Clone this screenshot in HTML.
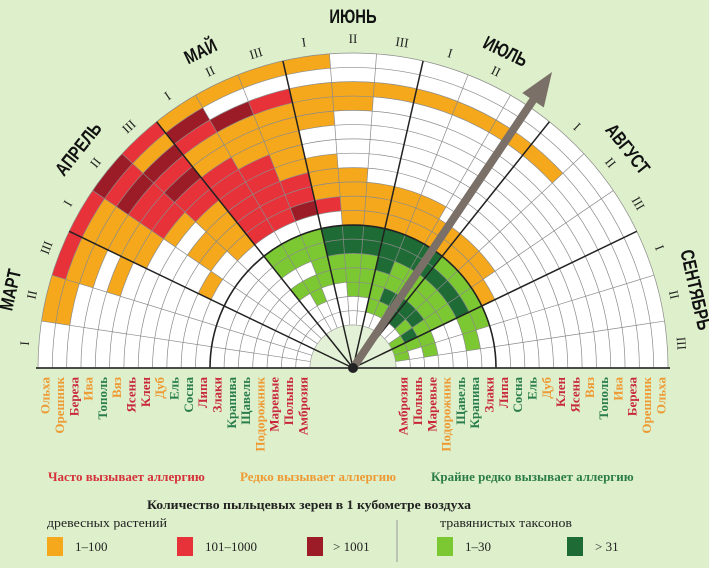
<!DOCTYPE html>
<html><head><meta charset="utf-8">
<style>
html,body{margin:0;padding:0;background:#ddf0cb;}
body{width:709px;height:568px;overflow:hidden;position:relative;font-family:"Liberation Serif",serif;}
svg{position:absolute;left:0;top:0;}
</style></head>
<body>
<svg id="chart" width="709" height="568" viewBox="0 0 709 568" xmlns="http://www.w3.org/2000/svg">
  <rect x="0" y="0" width="709" height="568" fill="#ddf0cb"/>
  <g id="cells"></g>
  <g id="grid"></g>
  <g id="labels"></g>
  <g id="arrow"></g>

  <g font-weight="bold" font-size="13">
    <text x="48" y="481" fill="#d5323a">Часто вызывает аллергию</text>
    <text x="240" y="481" fill="#ee9a34">Редко вызывает аллергию</text>
    <text x="431" y="481" fill="#2c7d47">Крайне редко вызывает аллергию</text>
  </g>
  <g font-size="13" fill="#222">
    <text x="147" y="509" font-weight="bold" textLength="324" lengthAdjust="spacingAndGlyphs">Количество пыльцевых зерен в 1 кубометре воздуха</text>
    <text x="47" y="527" textLength="120" lengthAdjust="spacingAndGlyphs">древесных растений</text>
    <text x="440" y="527" textLength="132" lengthAdjust="spacingAndGlyphs">травянистых таксонов</text>
    <line x1="397" y1="520" x2="397" y2="562" stroke="#999" stroke-width="1"/>
    <rect x="47" y="537" width="16" height="19" fill="#f5a81c"/>
    <text x="75" y="551">1–100</text>
    <rect x="177" y="537" width="16" height="19" fill="#e8323a"/>
    <text x="205" y="551">101–1000</text>
    <rect x="307" y="537" width="16" height="19" fill="#9b1c26"/>
    <text x="333" y="551">&gt; 1001</text>
    <rect x="437" y="537" width="16" height="19" fill="#7cc832"/>
    <text x="465" y="551">1–30</text>
    <rect x="567" y="537" width="16" height="19" fill="#1f6b35"/>
    <text x="595" y="551">&gt; 31</text>
  </g>
</svg>
<script>
const plants = ["Ольха","Орешник","Береза","Ива","Тополь","Вяз","Ясень","Клен","Дуб","Ель","Сосна","Липа","Злаки","Крапива","Щавель","Подорожник","Маревые","Полынь","Амброзия"];
const plantColors = ["o","o","r","o","g","o","r","r","o","g","g","r","r","g","g","o","r","r","r"];
const months = ["МАРТ","АПРЕЛЬ","МАЙ","ИЮНЬ","ИЮЛЬ","АВГУСТ","СЕНТЯБРЬ"];
const decadeNames = ["I","II","III"];
// one string per plant (outer->inner), one char per decade (March I .. September III)
// . none, o 1-100, r 101-1000, d >1001, g 1-30, G >31
const levels = [
".orrdroooo...........",
".ooorod..............",
"..ooddrdrooooooo.....",
"...orrooooo..........",
"..oordoooo...........",
"...orrroo............",
"....orrro............",
".....orroo...........",
"....oorrroo..........",
"....oorrrooooo.......",
"...o.orrdrooooooo....",
"..........oooooooo...",
"......gggGGGGGGgggg..",
"......gggGGGGGGGGGgg.",
"........ggggGggggg...",
"......gggggggggggg...",
".......g..gggGGGGggg.",
"............ggGGgGg..",
".................ggg."
];
const levelFill = {o:"#f5a81c", r:"#e8323a", d:"#9b1c26", g:"#7cc832", G:"#1f6b35"};
const labelFill = {o:"#ee9a34", r:"#c8283a", g:"#2a7d4c"};

const NS = "http://www.w3.org/2000/svg";
const cx = 353, cy = 368, R0 = 315, RH = 143, RC = 43;
const nRing = plants.length, nDec = months.length * 3;
const ringW = (R0 - RC) / nRing;
function rOuter(i){ return R0 - i * ringW; }
function ang(d){ return Math.PI - d * Math.PI / nDec; }
function pt(r,a){ return [cx + r*Math.cos(a), cy - r*Math.sin(a)]; }
function sector(r0,r1,a0,a1){
  const p1=pt(r1,a0), p2=pt(r1,a1), p3=pt(r0,a1), p4=pt(r0,a0);
  return `M${p1[0]},${p1[1]} A${r1},${r1} 0 0 1 ${p2[0]},${p2[1]} L${p3[0]},${p3[1]} A${r0},${r0} 0 0 0 ${p4[0]},${p4[1]} Z`;
}
function mk(tag, attrs, parent){
  const e = document.createElementNS(NS, tag);
  for (const k in attrs) e.setAttribute(k, attrs[k]);
  parent.appendChild(e);
  return e;
}
const cells = document.getElementById("cells");
const grid = document.getElementById("grid");
const labels = document.getElementById("labels");

const base = mk("path", {d: sector(RC, R0, Math.PI, 0), fill: "#ffffff"}, cells);



for (let i = 0; i < nRing; i++) {
  for (let d = 0; d < nDec; d++) {
    const v = levels[i][d];
    if (v === ".") continue;
    const c = mk("path", {d: sector(rOuter(i+1), rOuter(i), ang(d), ang(d+1)), fill: levelFill[v]}, cells);
    
    
  }
}
for (let i = 0; i <= nRing; i++) {
  const r = rOuter(i);
  const p1 = pt(r, Math.PI), p2 = pt(r, 0);
  const a = mk("path", {d:`M${p1[0]},${p1[1]} A${r},${r} 0 0 1 ${p2[0]},${p2[1]}`, fill:"none", stroke:"#8a8a8a", "stroke-width":"0.7"}, grid);
  
  
}
for (let d = 1; d < nDec; d++) {
  const p1 = pt(RC, ang(d)), p2 = pt(R0, ang(d));
  const l = mk("line", {x1:p1[0], y1:p1[1], x2:p2[0], y2:p2[1], stroke:"#8a8a8a", "stroke-width":"0.7"}, grid);
  
  
}
const cc = mk("path", {d:`M${cx-RC},${cy} A${RC},${RC} 0 0 1 ${cx+RC},${cy} Z`, fill:"#e3f2d6", stroke:"#aaa", "stroke-width":"0.6"}, grid);


for (let m = 1; m < months.length; m++) {
  const p2 = pt(R0, ang(m*3));
  const l = mk("line", {x1:cx, y1:cy, x2:p2[0], y2:p2[1], stroke:"#222", "stroke-width":"1.5"}, grid);
  
  
}
{
  const p1 = pt(RH, Math.PI), p2 = pt(RH, 0);
  const a = mk("path", {d:`M${p1[0]},${p1[1]} A${RH},${RH} 0 0 1 ${p2[0]},${p2[1]}`, fill:"none", stroke:"#222", "stroke-width":"1.6"}, grid);
  
  
  const b = mk("line", {x1:cx-R0-2, y1:cy, x2:cx+R0+2, y2:cy, stroke:"#333", "stroke-width":"1.8"}, grid);
  
  
}
for (let d = 0; d < nDec; d++) {
  const a = (ang(d) + ang(d+1)) / 2;
  const p = pt(328, a);
  const deg = 90 - a * 180 / Math.PI;
  const t = mk("text", {x:p[0], y:p[1], "text-anchor":"middle", "dominant-baseline":"middle", "font-size":"13", fill:"#222", transform:`rotate(${deg} ${p[0]} ${p[1]})`}, labels);
  t.textContent = decadeNames[d % 3];
  
  
}
for (let m = 0; m < months.length; m++) {
  const a = (ang(m*3) + ang(m*3+3)) / 2;
  const p = pt(350, a);
  const deg = 90 - a * 180 / Math.PI;
  const t = mk("text", {x:0, y:0, "text-anchor":"middle", "dominant-baseline":"middle", "font-size":"19", "font-weight":"bold", "font-family":"Liberation Sans, sans-serif", fill:"#111", transform:`translate(${p[0]} ${p[1]}) rotate(${deg}) scale(0.78 1)`}, labels);
  t.textContent = months[m];
  
  
}
for (let i = 0; i < nRing; i++) {
  const r = (rOuter(i) + rOuter(i+1)) / 2;
  [cx - r, cx + r].forEach(x => {
    const t = mk("text", {x:x+4.5, y:377, "text-anchor":"end", "font-size":"13", "font-weight":"bold", fill:labelFill[plantColors[i]], transform:`rotate(-90 ${x+4.5} 377)`}, labels);
    t.textContent = plants[i];
    
    
  });
}
{
  const g = document.getElementById("arrow");
  const tip = [552, 72];
  const dx = tip[0]-cx, dy = tip[1]-cy, L = Math.hypot(dx,dy);
  const ux = dx/L, uy = dy/L, px = -uy, py = ux;
  const bx = tip[0]-34*ux, by = tip[1]-34*uy;
  const sh = mk("line", {x1:cx, y1:cy, x2:bx+4*ux, y2:by+4*uy, stroke:"#7b7068", "stroke-width":"8"}, g);
  
  
  const hd = mk("polygon", {points:`${tip[0]},${tip[1]} ${bx+13*px},${by+13*py} ${bx-13*px},${by-13*py}`, fill:"#7b7068"}, g);
  
  
  const dot = mk("circle", {cx:cx, cy:cy, r:5, fill:"#222"}, g);
  
  
}
</script>
</body></html>
